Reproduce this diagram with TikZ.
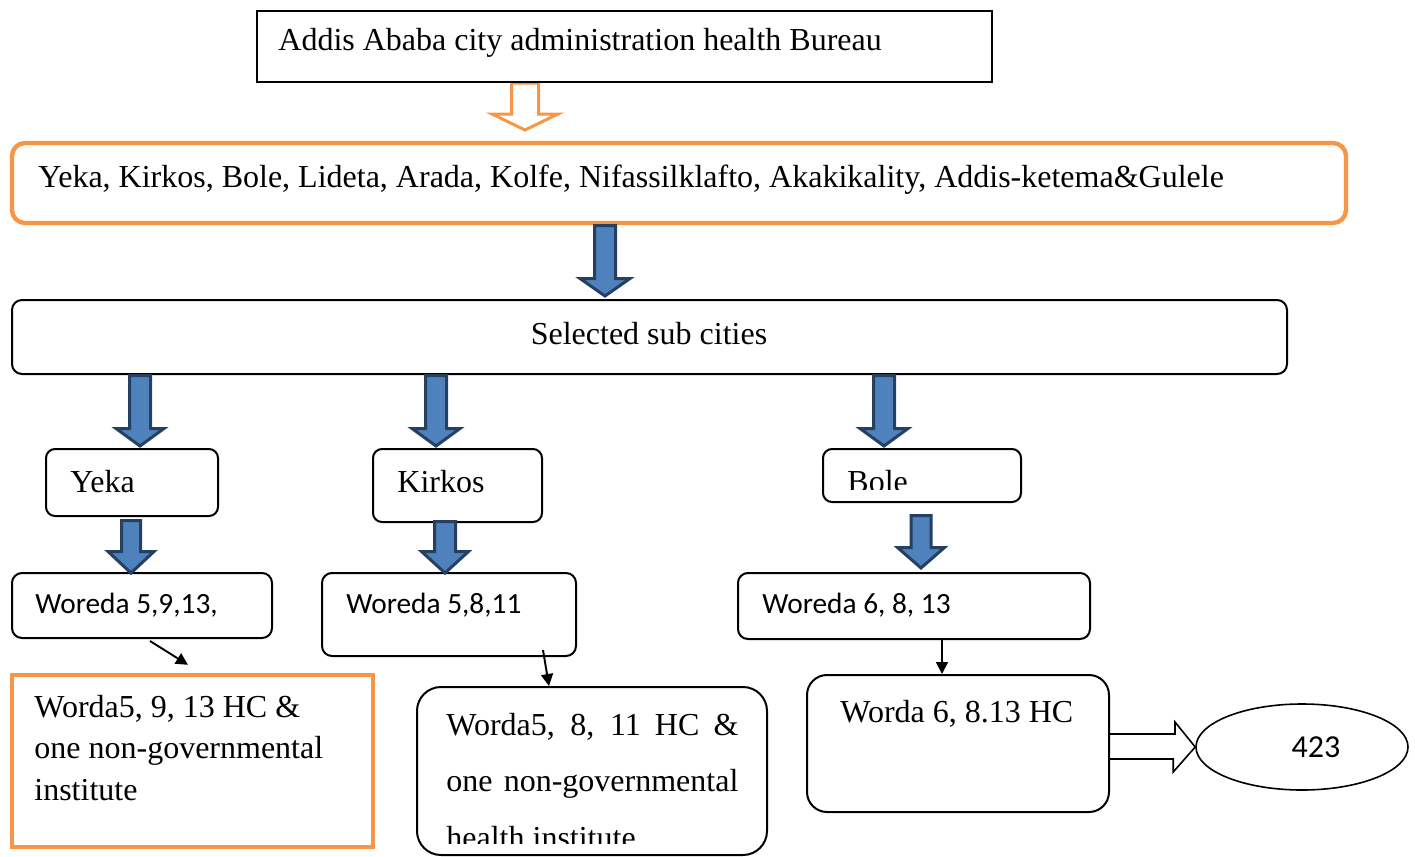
\documentclass[tikz,border=0pt]{standalone}
\usepackage{fontspec}
\setmainfont{Liberation Serif}
\newfontfamily\calibri{Carlito}
\usetikzlibrary{positioning,calc,fit,shapes.geometric,arrows.meta}
\definecolor{ink}      {HTML}{000000}
\definecolor{tangerine}{HTML}{F79646}
\definecolor{steel}    {HTML}{4F81BD}
\definecolor{navy}     {HTML}{254061}
\tikzset{
  every node/.style={font=\fontsize{16}{19}\selectfont},
  % --- boxes
  box/.style    = {draw=ink, line width=1pt, inner sep=0pt},
  rbox/.style   = {box, rounded corners=5pt},
  obox/.style   = {box, draw=tangerine, line width=2.2pt},
  orbox/.style  = {obox, rounded corners=6.5pt},
  txt/.style    = {anchor=base west, inner sep=0pt},
  ctxt/.style   = {txt, font=\calibri\fontsize{14.67}{18}\selectfont},
  % --- arrows
  blk/.style    = {fill=steel, draw=navy, line width=1.5pt},
  hollow/.style = {fill=white, draw=tangerine, line width=1.5pt},
  hollowk/.style= {draw=ink, line width=0.8pt},
  e/.style      = {-{Triangle[length=6pt,width=6pt]}, line width=0.95pt, draw=ink},
}
\begin{document}
\begin{tikzpicture}[x=0.5pt, y=-0.5pt]
  \useasboundingbox (0,0) rectangle (1415,857);
  % hollow arrow under the bureau box
  \draw[hollow] (511.5,83) -- (511.5,114) -- (492,114) -- (525,130) -- (558,114) -- (538.5,114) -- (538.5,83) -- cycle;

  \node[box, fit={(257,11) (992,82)}] (bureau) {};
  \node[txt] (bureau-t) at (278,50) {Addis Ababa city administration health Bureau};

  \node[orbox, fit={(12,143) (1346,223)}] (all) {};
  \node[txt] (all-t) at (38,187) {Yeka, Kirkos, Bole, Lideta, Arada, Kolfe, Nifassilklafto, Akakikality, Addis-ketema\&Gulele};

  \node[rbox, fit={(12,300) (1287,374)}] (sel) {};
  \node[txt, anchor=base] (sel-t) at (649,344) {Selected sub cities};

  % sub cities
  \node[rbox, rounded corners=4.5pt, fit={(46,449) (218,516)}] (yeka) {};
  \node[txt] (yeka-t) at (70,492) {Yeka};
  \node[rbox, rounded corners=4.5pt, fit={(373,449) (542,522)}] (kirkos) {};
  \node[txt] (kirkos-t) at (397,492) {Kirkos};
  \node[rbox, rounded corners=4.5pt, fit={(823,449) (1021,502)}] (bole) {};
  \begin{scope}
    \clip (823,449) rectangle (1021,489);
    \node[txt] (bole-t) at (847,492) {Bole};
  \end{scope}

  % woredas
  \node[rbox, fit={(12,573) (272,638)}] (wyeka) {};
  \node[ctxt] (wyeka-t) at (35,613) {Woreda 5,9,13,};
  \node[rbox, fit={(322,573) (576,656)}] (wkirkos) {};
  \node[ctxt] (wkirkos-t) at (346,613) {Woreda 5,8,11};
  \node[rbox, fit={(738,573) (1090,639)}] (wbole) {};
  \node[ctxt] (wbole-t) at (762,613) {Woreda 6, 8, 13};

  % health centres
  \node[obox, fit={(12,675) (373,847)}] (hyeka) {};
  \node[txt] (hyeka-1) at (34,717) {Worda5, 9, 13 HC \&};
  \node[txt] (hyeka-2) at (34,758) {one non-governmental};
  \node[txt] (hyeka-3) at (34,800) {institute};

  \node[rbox, rounded corners=12pt, fit={(417,687) (767,855)}] (hkirkos) {};
  \node[txt] (hkirkos-1) at (446,735) {\hbox to 146pt{Worda5, 8, 11 HC \&}};
  \node[txt] (hkirkos-2) at (446,791) {\hbox to 146pt{one non-governmental}};
  \begin{scope}
    \clip (417,800) rectangle (767,843);
    \node[txt] (hkirkos-3) at (446,848) {health institute};
  \end{scope}

  \node[rbox, rounded corners=10pt, fit={(807,675) (1109,812)}] (hbole) {};
  \node[txt] (hbole-t) at (840,722) {Worda 6, 8.13 HC};

  \node[ellipse, draw=ink, line width=0.8pt, minimum width=106pt, minimum height=43pt, inner sep=0pt,
        font=\calibri\fontsize{16}{19}\selectfont] (n423) at (1302,747) {\raisebox{-1pt}{\hspace{14pt}423}};

  % block arrows
  \foreach \px/\ya/\yb/\yc/\sw/\hw in {605/225.5/278.5/296/10.5/25,
      140/375.5/428.5/446/10.5/24, 436/375.5/428.5/446/10.5/24, 884/375.5/428.5/446/10.5/24,
      131/520.5/551.5/573/9.5/23, 445/521.5/551.5/573/10.5/23.5, 921/515.5/547.5/568/10/23.5}
    \draw[blk] (\px-\sw,\ya) -- (\px-\sw,\yb) -- (\px-\hw,\yb) -- (\px,\yc)
               -- (\px+\hw,\yb) -- (\px+\sw,\yb) -- (\px+\sw,\ya) -- cycle;

  % thin arrows
  \draw[e] ($(wyeka.south)+(8,2)$) -- ($(hyeka.north)+(-4.5,-8)$);
  \draw[e] ($(wkirkos.south east)+(-34,-7)$) -- ($(hkirkos.north)+(-43,0)$);
  \draw[e] ($(wbole.south)+(28,0)$) coordinate (wb) -- (wb |- hbole.north);

  % hollow arrow to the total
  \draw[hollowk] ($(hbole.east)+(0,-9.5)$) -- ++(65,0) -- ++(0,-12) -- (n423.west)
                 -- ++(-22,25) -- ++(0,-13) -- ++(-65,0);
\end{tikzpicture}
\end{document}
